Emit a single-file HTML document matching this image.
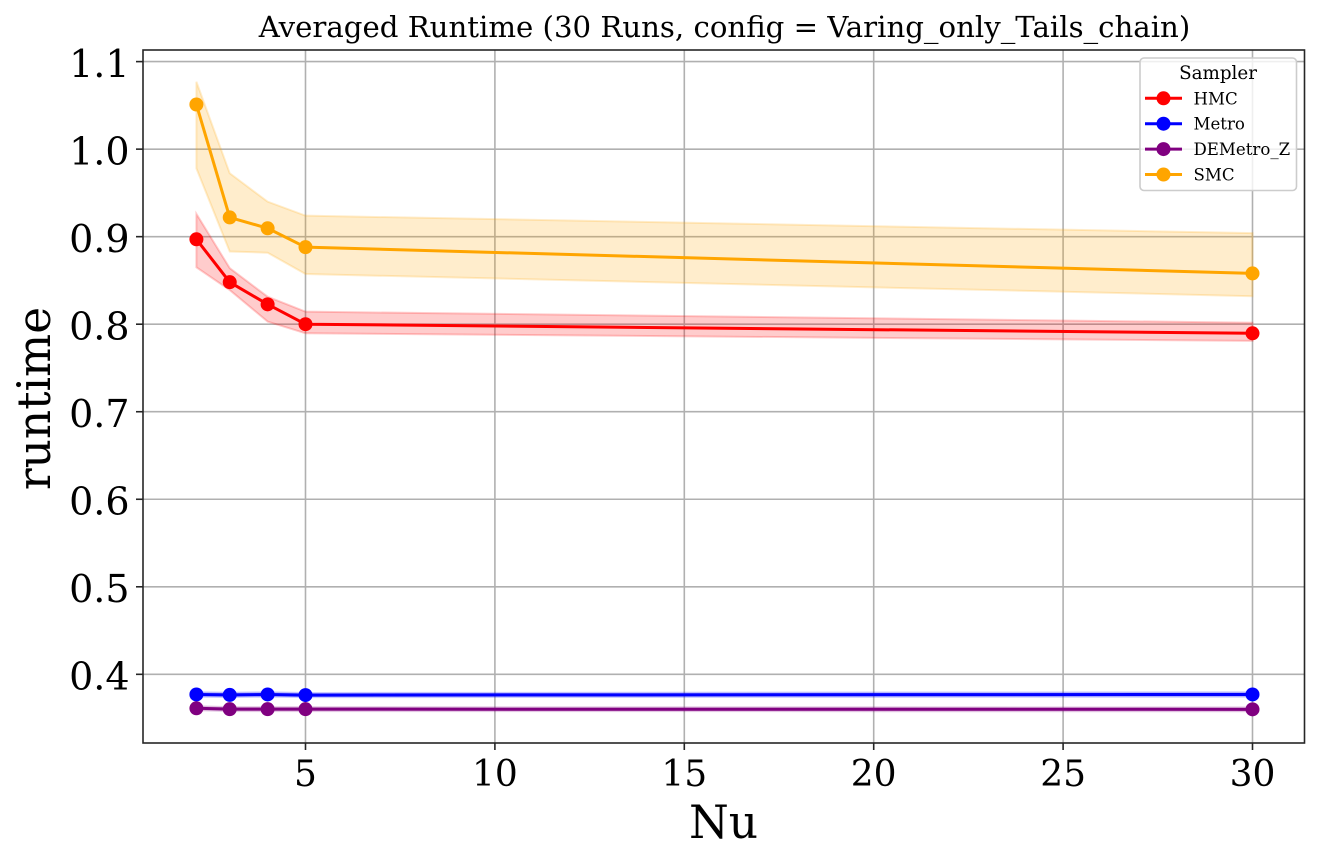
<!DOCTYPE html>
<html lang="en">
<head>
<meta charset="utf-8">
<title>Averaged Runtime</title>
<style>
html,body{margin:0;padding:0;background:#fff;width:1320px;height:862px;overflow:hidden}
svg{display:block}
text{font-family:"DejaVu Serif","Liberation Serif",serif;fill:#000}
</style>
</head>
<body>
<svg id="chart" xmlns="http://www.w3.org/2000/svg" width="1320" height="862" viewBox="0 0 1320 862">
  <rect x="0" y="0" width="1320" height="862" fill="#fff"/>
  <g id="grid"></g>
  <g id="series"></g>
  <rect x="143" y="50" width="1161.5" height="693" fill="none" stroke="#262626" stroke-width="1.6"/>
  <g id="ticks"></g>
  <text x="724.5" y="37" font-size="29.2" text-anchor="middle">Averaged Runtime (30 Runs, config = Varing_only_Tails_chain)</text>
  <text x="723.5" y="838" font-size="45.5" text-anchor="middle">Nu</text>
  <text transform="translate(50,398.5) rotate(-90)" font-size="45.5" text-anchor="middle">runtime</text>
  <g id="legend">
    <rect x="1140" y="58" width="156.5" height="132.5" rx="4" fill="#fff" fill-opacity="0.8" stroke="#cccccc" stroke-width="1.6"/>
    <text x="1218" y="79" font-size="18.3" text-anchor="middle">Sampler</text>
  </g>
</svg>
<script>
const xTicks = [5, 10, 15, 20, 25, 30];
const yTicks = [0.4, 0.5, 0.6, 0.7, 0.8, 0.9, 1.0, 1.1];
const yTickLabels = ["0.4", "0.5", "0.6", "0.7", "0.8", "0.9", "1.0", "1.1"];
const nuValues = [2.12, 3, 4, 5, 30];
const seriesNames = ["HMC", "Metro", "DEMetro_Z", "SMC"];
const seriesColors = ["#ff0000", "#0000ff", "#800080", "#ffa500"];
const hmcMean = [0.897, 0.848, 0.8227, 0.800, 0.7896];
const hmcUpper = [0.926, 0.864, 0.8314, 0.8143, 0.8017];
const hmcLower = [0.865, 0.839, 0.803, 0.7896, 0.781];
const metroMean = [0.377, 0.3765, 0.377, 0.3763, 0.377];
const metroUpper = [0.3795, 0.379, 0.3795, 0.3787, 0.3795];
const metroLower = [0.3745, 0.374, 0.3745, 0.3739, 0.3745];
const deMean = [0.3612, 0.3602, 0.3602, 0.3602, 0.360];
const deUpper = [0.3635, 0.3625, 0.3625, 0.3625, 0.3622];
const deLower = [0.359, 0.358, 0.358, 0.358, 0.3578];
const smcMean = [1.051, 0.922, 0.9096, 0.888, 0.858];
const smcUpper = [1.077, 0.9724, 0.940, 0.924, 0.904];
const smcLower = [0.978, 0.883, 0.8817, 0.8573, 0.832];

const NS = "http://www.w3.org/2000/svg";
const plotLeft = 143, plotRight = 1304.5, plotTop = 50, plotBottom = 743;
function xScale(v) { return 305.5 + (v - 5) * 37.88; }
function yScale(v) { return 324.2 + (0.8 - v) * 875.3; }
function make(tag, attrs, parent) {
  const el = document.createElementNS(NS, tag);
  for (const k in attrs) el.setAttribute(k, attrs[k]);
  parent.appendChild(el);
  return el;
}
const gridG = document.getElementById("grid");
const ticksG = document.getElementById("ticks");
const seriesG = document.getElementById("series");
const legendG = document.getElementById("legend");

xTicks.forEach(function (t) {
  const x = xScale(t);
  const g = make("line", { x1: x, x2: x, y1: plotTop, y2: plotBottom, stroke: "#b0b0b0", "stroke-width": 1.6 }, gridG);
  
  
  const m = make("line", { x1: x, x2: x, y1: plotBottom, y2: plotBottom + 7, stroke: "#262626", "stroke-width": 1.6 }, ticksG);
  
  
  const l = make("text", { x: x, y: 786, "font-size": 36, "text-anchor": "middle" }, ticksG);
  
  
  l.textContent = String(t);
});
yTicks.forEach(function (t, i) {
  const y = yScale(t);
  const g = make("line", { x1: plotLeft, x2: plotRight, y1: y, y2: y, stroke: "#b0b0b0", "stroke-width": 1.6 }, gridG);
  
  
  const m = make("line", { x1: plotLeft - 7, x2: plotLeft, y1: y, y2: y, stroke: "#262626", "stroke-width": 1.6 }, ticksG);
  
  
  const l = make("text", { x: 129.5, y: y + 15.3, "font-size": 38, "text-anchor": "end" }, ticksG);
  
  
  l.textContent = yTickLabels[i];
});

const meanBySeries = [hmcMean, metroMean, deMean, smcMean];
const upperBySeries = [hmcUpper, metroUpper, deUpper, smcUpper];
const lowerBySeries = [hmcLower, metroLower, deLower, smcLower];

seriesNames.forEach(function (name, s) {
  const color = seriesColors[s];
  const upperPts = nuValues.map(function (n, i) { return xScale(n) + "," + yScale(upperBySeries[s][i]); });
  const lowerPts = nuValues.map(function (n, i) { return xScale(n) + "," + yScale(lowerBySeries[s][i]); }).reverse();
  const band = make("polygon", { points: upperPts.concat(lowerPts).join(" "), fill: color, "fill-opacity": 0.2, stroke: color, "stroke-opacity": 0.2, "stroke-width": 2 }, seriesG);
  
  
});
seriesNames.forEach(function (name, s) {
  const color = seriesColors[s];
  const pts = nuValues.map(function (n, i) { return xScale(n) + "," + yScale(meanBySeries[s][i]); }).join(" ");
  const line = make("polyline", { points: pts, fill: "none", stroke: color, "stroke-width": 3, "stroke-linejoin": "round" }, seriesG);
  
  
  nuValues.forEach(function (n, i) {
    const dot = make("circle", { cx: xScale(n), cy: yScale(meanBySeries[s][i]), r: 7, fill: color }, seriesG);
    
    
  });

  const rowY = 98.3 + s * 25.4;
  const key = make("line", { x1: 1145, x2: 1182, y1: rowY, y2: rowY, stroke: color, "stroke-width": 3 }, legendG);
  
  
  const keyDot = make("circle", { cx: 1163.5, cy: rowY, r: 7, fill: color }, legendG);
  
  
  const label = make("text", { x: 1193.5, y: rowY + 6, "font-size": 16.6 }, legendG);
  
  
  label.textContent = name;
});
</script>
</body>
</html>
